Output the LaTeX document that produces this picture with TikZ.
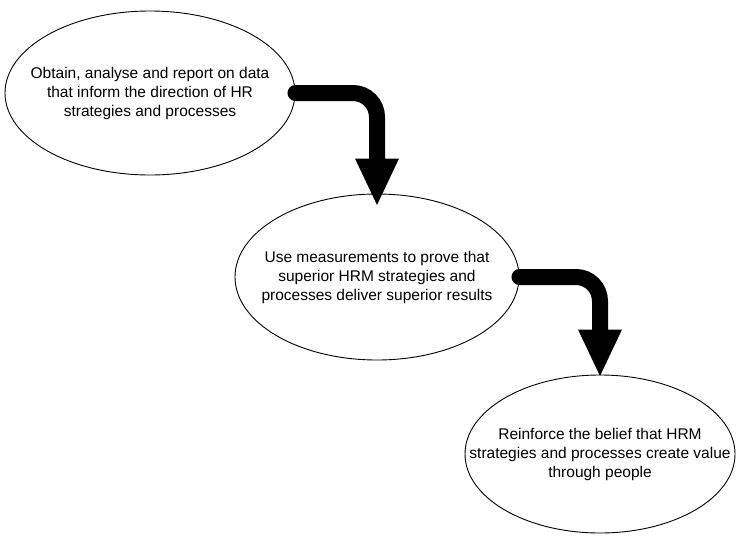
\documentclass[tikz,border=0pt]{standalone}
\usepackage{fontspec}
\setmainfont{Liberation Sans}
\usetikzlibrary{arrows.meta}
\usetikzlibrary{shapes.geometric}

\tikzset{
  bubble/.style={draw,ellipse,line width=0.9pt,inner sep=0pt},
  bubbletext/.style={align=center,inner sep=0pt,font=\fontsize{15.5}{19}\selectfont},
  flow/.style={-{Triangle[width=40pt,length=48pt]},line width=16pt,line cap=round,rounded corners=24pt}
}

\begin{document}
\begin{tikzpicture}[x=1pt,y=-1pt]
          \useasboundingbox (0,0) rectangle (736,536);
          \node [bubble,minimum width=290pt,minimum height=164pt] (data) at (150,93) {};
          \node [bubble,minimum width=284pt,minimum height=166pt] (prove) at (377,277) {};
          \node [bubble,minimum width=270pt,minimum height=158pt] (value) at (600,454) {};
          \node [bubbletext] (datatext) at (data) {Obtain, analyse and report on data\\that inform the direction of HR\\strategies and processes};
          \node [bubbletext] (provetext) at (prove) {Use measurements to prove that\\superior HRM strategies and\\processes deliver superior results};
          \node [bubbletext] (valuetext) at (value) {Reinforce the belief that HRM\\strategies and processes create value\\through people};
          \draw [flow] (data.east) -| ([yshift=-13pt]prove.north);
          \draw [flow] (prove.east) -| ([yshift=-3pt]value.north);
        
          \end{tikzpicture}
\end{document}
